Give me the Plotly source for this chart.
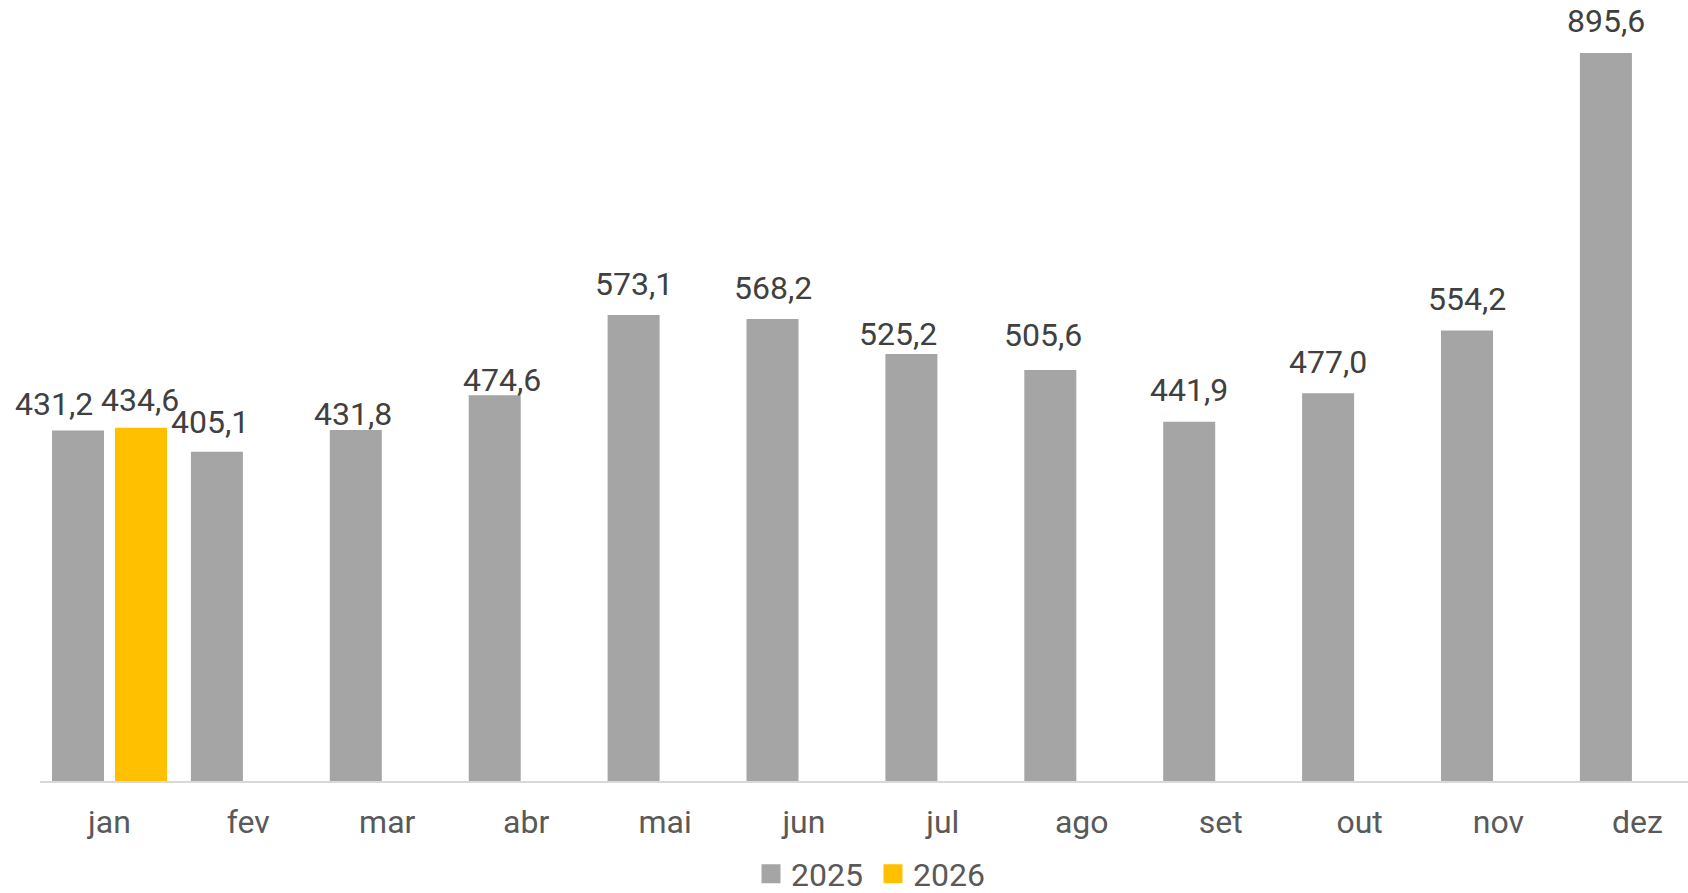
import plotly.graph_objects as go

months = ["jan", "fev", "mar", "abr", "mai", "jun", "jul", "ago", "set", "out", "nov", "dez"]
v2025 = [431.2, 405.1, 431.8, 474.6, 573.1, 568.2, 525.2, 505.6, 441.9, 477.0, 554.2, 895.6]
v2026 = [434.6, None, None, None, None, None, None, None, None, None, None, None]
series_names = ["2025", "2026"]

COLORS = {"2025": "#A5A5A5", "2026": "#FFC000"}
BAR_W = 0.3744
OFFSETS = {"2025": -0.4136, "2026": 0.04}
# label nudges in px (style only): (dx, dy)
NUDGE = {
    ("2025", 0): (-24, -5.5), ("2026", 0): (-1.5, -3.5), ("2025", 1): (-7, -1.5),
    ("2025", 2): (-2.5, -16), ("2025", 3): (7.5, -16.5), ("2025", 6): (-13, -11.5),
    ("2025", 7): (-7.5, 3.5),
}
BASE_YSHIFT = 10.5

FIG_W, FIG_H = 1688, 893
AXIS_Y = 781
PLOT_L = 40
CAT_PX = 138.9
PX_PER_UNIT = 0.813
LEGEND_Y = 874

def fmt(v):
    return f"{v:.1f}".replace(".", ",")

xs = list(range(len(months)))
fig = go.Figure()
annotations = []
for name, vals in zip(series_names, [v2025, v2026]):
    fig.add_trace(go.Bar(
        x=xs, y=vals, name=name, offset=OFFSETS[name], width=BAR_W,
        marker=dict(color=COLORS[name], line=dict(width=0)),
        showlegend=False, hoverinfo="skip"))
    fig.add_trace(go.Scatter(
        x=[None], y=[None], name=name, mode="markers",
        marker=dict(symbol="square", size=16, color=COLORS[name],
                    line=dict(width=3, color=COLORS[name])),
        showlegend=True))
    for i, v in enumerate(vals):
        if v is None:
            continue
        dx, dy = NUDGE.get((name, i), (0, 0))
        annotations.append(dict(
            x=i + OFFSETS[name] + BAR_W / 2, y=v, xref="x", yref="y",
            text=fmt(v), showarrow=False, yanchor="bottom", xanchor="center",
            xshift=dx, yshift=BASE_YSHIFT + dy,
            font=dict(family="Roboto", size=32, color="#404040")))

plot_w = FIG_W - PLOT_L
fig.update_layout(
    width=FIG_W, height=FIG_H,
    margin=dict(l=PLOT_L, r=0, t=0, b=FIG_H - AXIS_Y, autoexpand=False),
    paper_bgcolor="white", plot_bgcolor="white",
    barmode="overlay",
    font=dict(family="Roboto", size=32, color="#595959"),
    annotations=annotations,
    legend=dict(orientation="h", x=(873 - 40) / plot_w, xanchor="center",
                y=-(LEGEND_Y - AXIS_Y) / AXIS_Y, yanchor="middle", entrywidth=77,
                font=dict(family="Roboto", size=32, color="#595959"),
                bgcolor="rgba(0,0,0,0)"),
    xaxis=dict(range=[-0.5, -0.5 + plot_w / CAT_PX], tickvals=xs, ticktext=months,
               showgrid=False, zeroline=False, showline=True, linecolor="#D9D9D9",
               linewidth=2, ticks="", ticklabelstandoff=12,
               tickfont=dict(family="Roboto", size=32, color="#595959")),
    yaxis=dict(range=[0, AXIS_Y / PX_PER_UNIT], visible=False, showgrid=False, zeroline=False),
)

fig.write_html("out.html",
               config={"displayModeBar": False},
               post_script="document.body.style.margin='0';document.body.style.overflow='hidden';")
